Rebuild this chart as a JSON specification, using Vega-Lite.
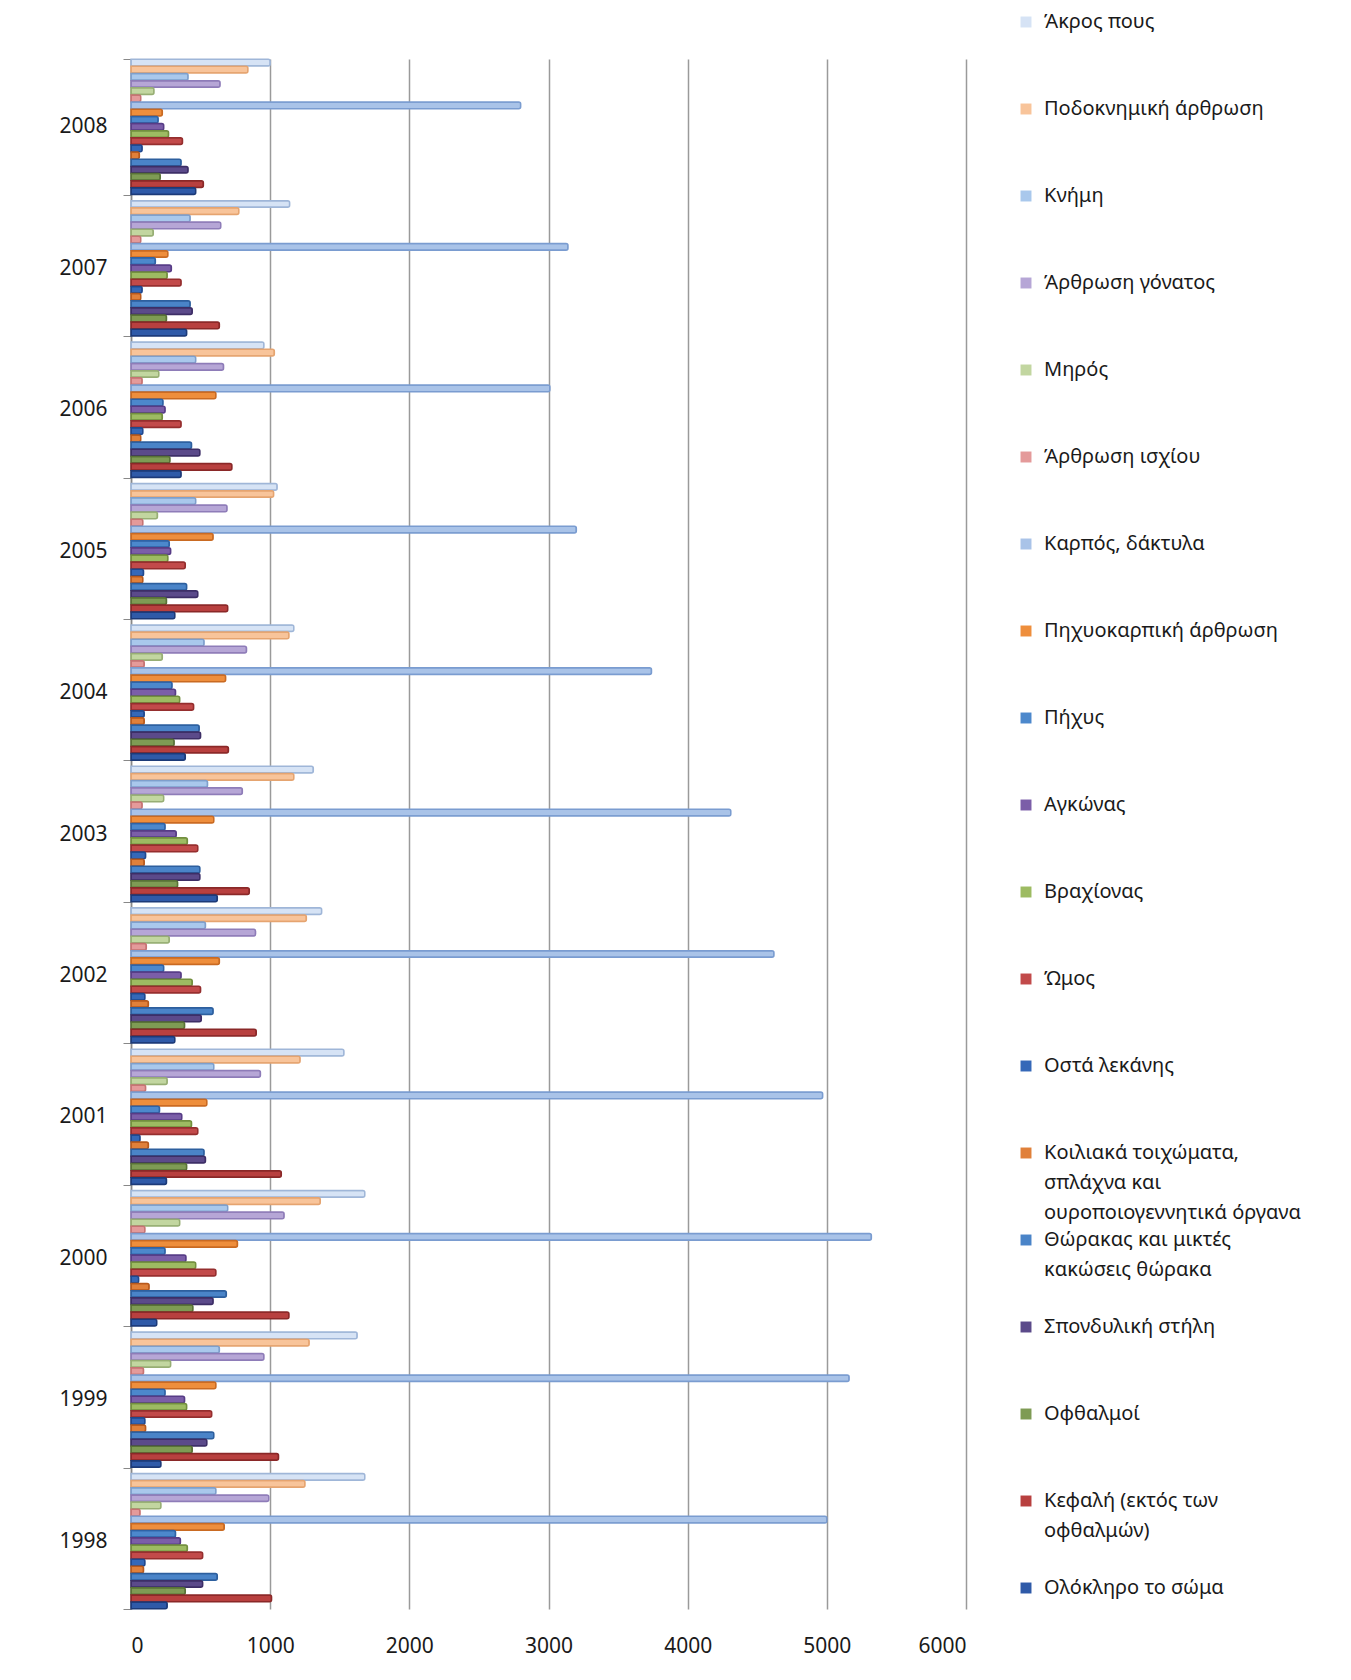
{
  "$schema": "https://vega.github.io/schema/vega-lite/v6.json",
  "width": 835,
  "height": 1550,
  "autosize": {"type": "none"},
  "padding": {"left": 131, "top": 59, "right": 385, "bottom": 71},
  "background": "white",
  "config": {"font": "Noto Sans", "view": {"stroke": null}, "style": {"guide-label": {"lineHeight": 30}}},
  "data": {"values": [
    {"year":"2008","part":"Άκρος πους","value":1000},
    {"year":"2008","part":"Ποδοκνημική άρθρωση","value":840},
    {"year":"2008","part":"Κνήμη","value":410},
    {"year":"2008","part":"Άρθρωση γόνατος","value":640},
    {"year":"2008","part":"Μηρός","value":165},
    {"year":"2008","part":"Άρθρωση ισχίου","value":70},
    {"year":"2008","part":"Καρπός, δάκτυλα","value":2800},
    {"year":"2008","part":"Πηχυοκαρπική άρθρωση","value":225},
    {"year":"2008","part":"Πήχυς","value":195},
    {"year":"2008","part":"Αγκώνας","value":235},
    {"year":"2008","part":"Βραχίονας","value":270},
    {"year":"2008","part":"Ώμος","value":370},
    {"year":"2008","part":"Οστά λεκάνης","value":80},
    {"year":"2008","part":"Κοιλιακά τοιχώματα, σπλάχνα και ουροποιογεννητικά όργανα","value":60},
    {"year":"2008","part":"Θώρακας και μικτές κακώσεις θώρακα","value":360},
    {"year":"2008","part":"Σπονδυλική στήλη","value":410},
    {"year":"2008","part":"Οφθαλμοί","value":210},
    {"year":"2008","part":"Κεφαλή (εκτός των οφθαλμών)","value":520},
    {"year":"2008","part":"Ολόκληρο το σώμα","value":465},

    {"year":"2007","part":"Άκρος πους","value":1140},
    {"year":"2007","part":"Ποδοκνημική άρθρωση","value":775},
    {"year":"2007","part":"Κνήμη","value":425},
    {"year":"2007","part":"Άρθρωση γόνατος","value":645},
    {"year":"2007","part":"Μηρός","value":160},
    {"year":"2007","part":"Άρθρωση ισχίου","value":70},
    {"year":"2007","part":"Καρπός, δάκτυλα","value":3140},
    {"year":"2007","part":"Πηχυοκαρπική άρθρωση","value":265},
    {"year":"2007","part":"Πήχυς","value":175},
    {"year":"2007","part":"Αγκώνας","value":290},
    {"year":"2007","part":"Βραχίονας","value":260},
    {"year":"2007","part":"Ώμος","value":360},
    {"year":"2007","part":"Οστά λεκάνης","value":80},
    {"year":"2007","part":"Κοιλιακά τοιχώματα, σπλάχνα και ουροποιογεννητικά όργανα","value":70},
    {"year":"2007","part":"Θώρακας και μικτές κακώσεις θώρακα","value":425},
    {"year":"2007","part":"Σπονδυλική στήλη","value":440},
    {"year":"2007","part":"Οφθαλμοί","value":255},
    {"year":"2007","part":"Κεφαλή (εκτός των οφθαλμών)","value":635},
    {"year":"2007","part":"Ολόκληρο το σώμα","value":400},

    {"year":"2006","part":"Άκρος πους","value":955},
    {"year":"2006","part":"Ποδοκνημική άρθρωση","value":1030},
    {"year":"2006","part":"Κνήμη","value":465},
    {"year":"2006","part":"Άρθρωση γόνατος","value":665},
    {"year":"2006","part":"Μηρός","value":200},
    {"year":"2006","part":"Άρθρωση ισχίου","value":80},
    {"year":"2006","part":"Καρπός, δάκτυλα","value":3010},
    {"year":"2006","part":"Πηχυοκαρπική άρθρωση","value":610},
    {"year":"2006","part":"Πήχυς","value":230},
    {"year":"2006","part":"Αγκώνας","value":245},
    {"year":"2006","part":"Βραχίονας","value":225},
    {"year":"2006","part":"Ώμος","value":360},
    {"year":"2006","part":"Οστά λεκάνης","value":85},
    {"year":"2006","part":"Κοιλιακά τοιχώματα, σπλάχνα και ουροποιογεννητικά όργανα","value":70},
    {"year":"2006","part":"Θώρακας και μικτές κακώσεις θώρακα","value":435},
    {"year":"2006","part":"Σπονδυλική στήλη","value":495},
    {"year":"2006","part":"Οφθαλμοί","value":280},
    {"year":"2006","part":"Κεφαλή (εκτός των οφθαλμών)","value":725},
    {"year":"2006","part":"Ολόκληρο το σώμα","value":360},

    {"year":"2005","part":"Άκρος πους","value":1050},
    {"year":"2005","part":"Ποδοκνημική άρθρωση","value":1025},
    {"year":"2005","part":"Κνήμη","value":465},
    {"year":"2005","part":"Άρθρωση γόνατος","value":690},
    {"year":"2005","part":"Μηρός","value":190},
    {"year":"2005","part":"Άρθρωση ισχίου","value":85},
    {"year":"2005","part":"Καρπός, δάκτυλα","value":3200},
    {"year":"2005","part":"Πηχυοκαρπική άρθρωση","value":590},
    {"year":"2005","part":"Πήχυς","value":275},
    {"year":"2005","part":"Αγκώνας","value":285},
    {"year":"2005","part":"Βραχίονας","value":265},
    {"year":"2005","part":"Ώμος","value":390},
    {"year":"2005","part":"Οστά λεκάνης","value":90},
    {"year":"2005","part":"Κοιλιακά τοιχώματα, σπλάχνα και ουροποιογεννητικά όργανα","value":85},
    {"year":"2005","part":"Θώρακας και μικτές κακώσεις θώρακα","value":400},
    {"year":"2005","part":"Σπονδυλική στήλη","value":480},
    {"year":"2005","part":"Οφθαλμοί","value":255},
    {"year":"2005","part":"Κεφαλή (εκτός των οφθαλμών)","value":695},
    {"year":"2005","part":"Ολόκληρο το σώμα","value":315},

    {"year":"2004","part":"Άκρος πους","value":1170},
    {"year":"2004","part":"Ποδοκνημική άρθρωση","value":1135},
    {"year":"2004","part":"Κνήμη","value":525},
    {"year":"2004","part":"Άρθρωση γόνατος","value":830},
    {"year":"2004","part":"Μηρός","value":225},
    {"year":"2004","part":"Άρθρωση ισχίου","value":95},
    {"year":"2004","part":"Καρπός, δάκτυλα","value":3740},
    {"year":"2004","part":"Πηχυοκαρπική άρθρωση","value":680},
    {"year":"2004","part":"Πήχυς","value":295},
    {"year":"2004","part":"Αγκώνας","value":320},
    {"year":"2004","part":"Βραχίονας","value":350},
    {"year":"2004","part":"Ώμος","value":450},
    {"year":"2004","part":"Οστά λεκάνης","value":95},
    {"year":"2004","part":"Κοιλιακά τοιχώματα, σπλάχνα και ουροποιογεννητικά όργανα","value":95},
    {"year":"2004","part":"Θώρακας και μικτές κακώσεις θώρακα","value":490},
    {"year":"2004","part":"Σπονδυλική στήλη","value":500},
    {"year":"2004","part":"Οφθαλμοί","value":310},
    {"year":"2004","part":"Κεφαλή (εκτός των οφθαλμών)","value":700},
    {"year":"2004","part":"Ολόκληρο το σώμα","value":390},

    {"year":"2003","part":"Άκρος πους","value":1310},
    {"year":"2003","part":"Ποδοκνημική άρθρωση","value":1170},
    {"year":"2003","part":"Κνήμη","value":550},
    {"year":"2003","part":"Άρθρωση γόνατος","value":800},
    {"year":"2003","part":"Μηρός","value":235},
    {"year":"2003","part":"Άρθρωση ισχίου","value":80},
    {"year":"2003","part":"Καρπός, δάκτυλα","value":4310},
    {"year":"2003","part":"Πηχυοκαρπική άρθρωση","value":595},
    {"year":"2003","part":"Πήχυς","value":245},
    {"year":"2003","part":"Αγκώνας","value":325},
    {"year":"2003","part":"Βραχίονας","value":405},
    {"year":"2003","part":"Ώμος","value":480},
    {"year":"2003","part":"Οστά λεκάνης","value":105},
    {"year":"2003","part":"Κοιλιακά τοιχώματα, σπλάχνα και ουροποιογεννητικά όργανα","value":95},
    {"year":"2003","part":"Θώρακας και μικτές κακώσεις θώρακα","value":495},
    {"year":"2003","part":"Σπονδυλική στήλη","value":495},
    {"year":"2003","part":"Οφθαλμοί","value":335},
    {"year":"2003","part":"Κεφαλή (εκτός των οφθαλμών)","value":850},
    {"year":"2003","part":"Ολόκληρο το σώμα","value":620},

    {"year":"2002","part":"Άκρος πους","value":1370},
    {"year":"2002","part":"Ποδοκνημική άρθρωση","value":1260},
    {"year":"2002","part":"Κνήμη","value":535},
    {"year":"2002","part":"Άρθρωση γόνατος","value":895},
    {"year":"2002","part":"Μηρός","value":275},
    {"year":"2002","part":"Άρθρωση ισχίου","value":110},
    {"year":"2002","part":"Καρπός, δάκτυλα","value":4620},
    {"year":"2002","part":"Πηχυοκαρπική άρθρωση","value":635},
    {"year":"2002","part":"Πήχυς","value":235},
    {"year":"2002","part":"Αγκώνας","value":360},
    {"year":"2002","part":"Βραχίονας","value":440},
    {"year":"2002","part":"Ώμος","value":500},
    {"year":"2002","part":"Οστά λεκάνης","value":100},
    {"year":"2002","part":"Κοιλιακά τοιχώματα, σπλάχνα και ουροποιογεννητικά όργανα","value":125},
    {"year":"2002","part":"Θώρακας και μικτές κακώσεις θώρακα","value":590},
    {"year":"2002","part":"Σπονδυλική στήλη","value":505},
    {"year":"2002","part":"Οφθαλμοί","value":385},
    {"year":"2002","part":"Κεφαλή (εκτός των οφθαλμών)","value":900},
    {"year":"2002","part":"Ολόκληρο το σώμα","value":315},

    {"year":"2001","part":"Άκρος πους","value":1530},
    {"year":"2001","part":"Ποδοκνημική άρθρωση","value":1215},
    {"year":"2001","part":"Κνήμη","value":595},
    {"year":"2001","part":"Άρθρωση γόνατος","value":930},
    {"year":"2001","part":"Μηρός","value":260},
    {"year":"2001","part":"Άρθρωση ισχίου","value":105},
    {"year":"2001","part":"Καρπός, δάκτυλα","value":4970},
    {"year":"2001","part":"Πηχυοκαρπική άρθρωση","value":545},
    {"year":"2001","part":"Πήχυς","value":205},
    {"year":"2001","part":"Αγκώνας","value":365},
    {"year":"2001","part":"Βραχίονας","value":435},
    {"year":"2001","part":"Ώμος","value":480},
    {"year":"2001","part":"Οστά λεκάνης","value":65},
    {"year":"2001","part":"Κοιλιακά τοιχώματα, σπλάχνα και ουροποιογεννητικά όργανα","value":125},
    {"year":"2001","part":"Θώρακας και μικτές κακώσεις θώρακα","value":525},
    {"year":"2001","part":"Σπονδυλική στήλη","value":535},
    {"year":"2001","part":"Οφθαλμοί","value":400},
    {"year":"2001","part":"Κεφαλή (εκτός των οφθαλμών)","value":1080},
    {"year":"2001","part":"Ολόκληρο το σώμα","value":255},

    {"year":"2000","part":"Άκρος πους","value":1680},
    {"year":"2000","part":"Ποδοκνημική άρθρωση","value":1360},
    {"year":"2000","part":"Κνήμη","value":695},
    {"year":"2000","part":"Άρθρωση γόνατος","value":1100},
    {"year":"2000","part":"Μηρός","value":350},
    {"year":"2000","part":"Άρθρωση ισχίου","value":100},
    {"year":"2000","part":"Καρπός, δάκτυλα","value":5320},
    {"year":"2000","part":"Πηχυοκαρπική άρθρωση","value":765},
    {"year":"2000","part":"Πήχυς","value":245},
    {"year":"2000","part":"Αγκώνας","value":395},
    {"year":"2000","part":"Βραχίονας","value":465},
    {"year":"2000","part":"Ώμος","value":610},
    {"year":"2000","part":"Οστά λεκάνης","value":55},
    {"year":"2000","part":"Κοιλιακά τοιχώματα, σπλάχνα και ουροποιογεννητικά όργανα","value":130},
    {"year":"2000","part":"Θώρακας και μικτές κακώσεις θώρακα","value":685},
    {"year":"2000","part":"Σπονδυλική στήλη","value":590},
    {"year":"2000","part":"Οφθαλμοί","value":445},
    {"year":"2000","part":"Κεφαλή (εκτός των οφθαλμών)","value":1135},
    {"year":"2000","part":"Ολόκληρο το σώμα","value":185},

    {"year":"1999","part":"Άκρος πους","value":1625},
    {"year":"1999","part":"Ποδοκνημική άρθρωση","value":1280},
    {"year":"1999","part":"Κνήμη","value":635},
    {"year":"1999","part":"Άρθρωση γόνατος","value":955},
    {"year":"1999","part":"Μηρός","value":285},
    {"year":"1999","part":"Άρθρωση ισχίου","value":90},
    {"year":"1999","part":"Καρπός, δάκτυλα","value":5160},
    {"year":"1999","part":"Πηχυοκαρπική άρθρωση","value":610},
    {"year":"1999","part":"Πήχυς","value":245},
    {"year":"1999","part":"Αγκώνας","value":385},
    {"year":"1999","part":"Βραχίονας","value":400},
    {"year":"1999","part":"Ώμος","value":580},
    {"year":"1999","part":"Οστά λεκάνης","value":100},
    {"year":"1999","part":"Κοιλιακά τοιχώματα, σπλάχνα και ουροποιογεννητικά όργανα","value":105},
    {"year":"1999","part":"Θώρακας και μικτές κακώσεις θώρακα","value":595},
    {"year":"1999","part":"Σπονδυλική στήλη","value":545},
    {"year":"1999","part":"Οφθαλμοί","value":440},
    {"year":"1999","part":"Κεφαλή (εκτός των οφθαλμών)","value":1060},
    {"year":"1999","part":"Ολόκληρο το σώμα","value":215},

    {"year":"1998","part":"Άκρος πους","value":1680},
    {"year":"1998","part":"Ποδοκνημική άρθρωση","value":1250},
    {"year":"1998","part":"Κνήμη","value":610},
    {"year":"1998","part":"Άρθρωση γόνατος","value":990},
    {"year":"1998","part":"Μηρός","value":215},
    {"year":"1998","part":"Άρθρωση ισχίου","value":65},
    {"year":"1998","part":"Καρπός, δάκτυλα","value":5000},
    {"year":"1998","part":"Πηχυοκαρπική άρθρωση","value":670},
    {"year":"1998","part":"Πήχυς","value":320},
    {"year":"1998","part":"Αγκώνας","value":355},
    {"year":"1998","part":"Βραχίονας","value":405},
    {"year":"1998","part":"Ώμος","value":515},
    {"year":"1998","part":"Οστά λεκάνης","value":100},
    {"year":"1998","part":"Κοιλιακά τοιχώματα, σπλάχνα και ουροποιογεννητικά όργανα","value":90},
    {"year":"1998","part":"Θώρακας και μικτές κακώσεις θώρακα","value":620},
    {"year":"1998","part":"Σπονδυλική στήλη","value":515},
    {"year":"1998","part":"Οφθαλμοί","value":390},
    {"year":"1998","part":"Κεφαλή (εκτός των οφθαλμών)","value":1010},
    {"year":"1998","part":"Ολόκληρο το σώμα","value":260}
  ]},
  "mark": {"type": "bar", "strokeWidth": 1.5, "cornerRadiusEnd": 2},
  "encoding": {
    "y": {
      "field": "year", "type": "nominal", "sort": "descending",
      "scale": {"paddingInner": 0.04, "paddingOuter": 0},
      "axis": {"title": null, "labelFontSize": 21, "labelColor": "#1a1a1a", "labelPadding": 16, "tickSize": 8, "tickBand": "extent", "tickColor": "#888888", "domainColor": "#888888", "domainWidth": 1.5, "grid": false}
    },
    "yOffset": {
      "field": "part", "type": "nominal",
      "sort": ["Άκρος πους","Ποδοκνημική άρθρωση","Κνήμη","Άρθρωση γόνατος","Μηρός","Άρθρωση ισχίου","Καρπός, δάκτυλα","Πηχυοκαρπική άρθρωση","Πήχυς","Αγκώνας","Βραχίονας","Ώμος","Οστά λεκάνης","Κοιλιακά τοιχώματα, σπλάχνα και ουροποιογεννητικά όργανα","Θώρακας και μικτές κακώσεις θώρακα","Σπονδυλική στήλη","Οφθαλμοί","Κεφαλή (εκτός των οφθαλμών)","Ολόκληρο το σώμα"],
      "scale": {"paddingInner": 0.06, "paddingOuter": 0.03}
    },
    "x": {
      "field": "value", "type": "quantitative",
      "scale": {"domain": [0, 6000], "nice": false},
      "axis": {"title": null, "values": [0,1000,2000,3000,4000,5000,6000], "format": "d", "labelFontSize": 21, "labelColor": "#1a1a1a", "labelPadding": 26, "ticks": false, "domain": false, "grid": true, "gridColor": "#9a9a9a", "gridWidth": 1.5}
    },
    "color": {
      "field": "part", "type": "nominal",
      "scale": {
        "domain": ["Άκρος πους","Ποδοκνημική άρθρωση","Κνήμη","Άρθρωση γόνατος","Μηρός","Άρθρωση ισχίου","Καρπός, δάκτυλα","Πηχυοκαρπική άρθρωση","Πήχυς","Αγκώνας","Βραχίονας","Ώμος","Οστά λεκάνης","Κοιλιακά τοιχώματα, σπλάχνα και ουροποιογεννητικά όργανα","Θώρακας και μικτές κακώσεις θώρακα","Σπονδυλική στήλη","Οφθαλμοί","Κεφαλή (εκτός των οφθαλμών)","Ολόκληρο το σώμα"],
        "range": ["#D6E3F5","#F8C49A","#A9C8EC","#B6A6D6","#C2D6A0","#E49A9A","#A9C3E8","#EE8E3C","#4C88CC","#7B5EA8","#9DBB62","#C24A4A","#3568B8","#E0803A","#4A84C8","#5B4A8A","#7E9B54","#B8403F","#2F5AA8"]
      },
      "legend": {
        "title": null, "orient": "none", "legendX": 885, "legendY": -47, "padding": 0,
        "gridAlign": "all", "rowPadding": 7, "symbolType": "square", "symbolSize": 120, "symbolStrokeWidth": 0,
        "labelFontSize": 20, "labelColor": "#1a1a1a", "labelOffset": 8, "labelLimit": 400,
        "labelExpr": "datum.label == 'Κοιλιακά τοιχώματα, σπλάχνα και ουροποιογεννητικά όργανα' ? ['Κοιλιακά τοιχώματα,', 'σπλάχνα και', 'ουροποιογεννητικά όργανα'] : datum.label == 'Θώρακας και μικτές κακώσεις θώρακα' ? ['Θώρακας και μικτές', 'κακώσεις θώρακα'] : datum.label == 'Κεφαλή (εκτός των οφθαλμών)' ? ['Κεφαλή (εκτός των', 'οφθαλμών)'] : datum.label"
      }
    },
    "stroke": {
      "field": "part", "type": "nominal",
      "scale": {
        "domain": ["Άκρος πους","Ποδοκνημική άρθρωση","Κνήμη","Άρθρωση γόνατος","Μηρός","Άρθρωση ισχίου","Καρπός, δάκτυλα","Πηχυοκαρπική άρθρωση","Πήχυς","Αγκώνας","Βραχίονας","Ώμος","Οστά λεκάνης","Κοιλιακά τοιχώματα, σπλάχνα και ουροποιογεννητικά όργανα","Θώρακας και μικτές κακώσεις θώρακα","Σπονδυλική στήλη","Οφθαλμοί","Κεφαλή (εκτός των οφθαλμών)","Ολόκληρο το σώμα"],
        "range": ["#9FB6D8","#E5A470","#7E9FCC","#8E7CB8","#97AE74","#C67373","#7A9CD0","#C96A22","#2F63A6","#573C86","#728F3E","#952E2E","#20488E","#B8591C","#2D5F9E","#3D2E66","#587236","#8A2828","#1C3A78"]
      },
      "legend": null
    }
  }
}
